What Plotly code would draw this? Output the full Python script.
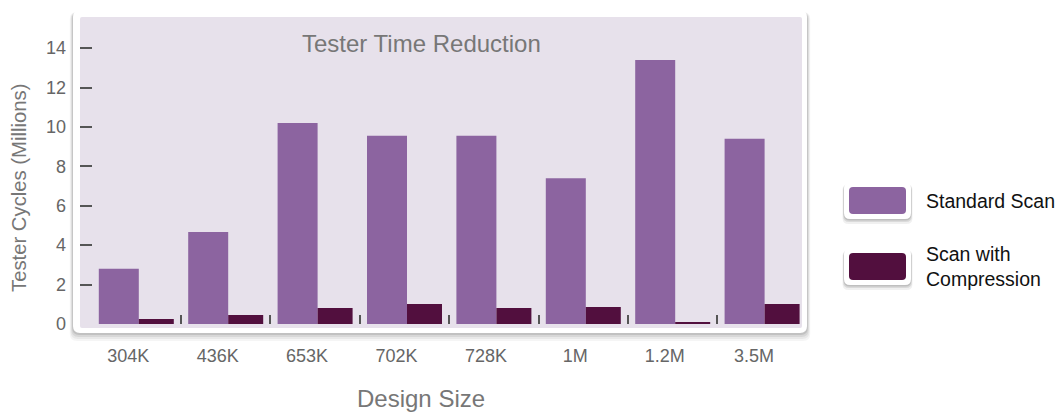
import plotly.graph_objects as go

categories = ["304K", "436K", "653K", "702K", "728K", "1M", "1.2M", "3.5M"]
standard_scan = [2.8, 4.67, 10.2, 9.55, 9.55, 7.4, 13.4, 9.4]
scan_compression = [0.25, 0.46, 0.81, 1.01, 0.81, 0.86, 0.1, 1.01]
series_names = ["Standard Scan", "Scan with<br>Compression"]
y_ticks = [0, 2, 4, 6, 8, 10, 12, 14]

c_std = "#8c64a0"
c_cmp = "#520f3e"
FONT = "Liberation Sans, Arial, Helvetica, sans-serif"

W, H = 1061, 412
L, R, T, B = 80, 803, 17, 324  # plot area in pixels
pw, ph = R - L, B - T


def px(x):
    return (x - L) / pw


def py(y):
    return (B - y) / ph


def rrect(x0, y0, x1, y1, r, fill, layer="above"):
    # rounded rectangle given in pixel coords, emitted in paper coords
    a, b_, c, d = px(x0), py(y0), px(x1), py(y1)
    rx, ry = r / pw, r / ph
    path = (f"M {a+rx},{b_} L {c-rx},{b_} Q {c},{b_} {c},{b_-ry} L {c},{d+ry} Q {c},{d} {c-rx},{d} "
            f"L {a+rx},{d} Q {a},{d} {a},{d+ry} L {a},{b_-ry} Q {a},{b_} {a+rx},{b_} Z")
    return dict(type="path", xref="paper", yref="paper", path=path, fillcolor=fill,
                line=dict(width=0), layer=layer)


xs = list(range(len(categories)))
cat_px = 89.4
fig = go.Figure()
fig.add_trace(go.Bar(x=xs, y=standard_scan, name=series_names[0],
                     marker=dict(color=c_std, line=dict(width=0)),
                     width=40 / cat_px, offset=-37.5 / cat_px, showlegend=False))
fig.add_trace(go.Bar(x=xs, y=scan_compression, name=series_names[1],
                     marker=dict(color=c_cmp, line=dict(width=0)),
                     width=35 / cat_px, offset=2.5 / cat_px, showlegend=False))

shapes = []
# frame drop shadow
for d, op in [(8, 0.04), (6, 0.05), (4, 0.07), (2, 0.10)]:
    shapes.append(rrect(73 - d * 0.4, 12, 807 + d * 0.4, 333 + d, 7, f"rgba(0,0,0,{op})", "below"))
shapes.append(rrect(73, 10, 807, 333, 7, "#ffffff", "below"))
shapes.append(rrect(80, 17, 802, 328, 2, "#e7e1eb", "below"))

# legend swatches
annotations = []
for (y0, y1, col, name) in [(182, 219, c_std, series_names[0]), (248, 285, c_cmp, series_names[1])]:
    for d, op in [(5, 0.06), (3, 0.09), (1.5, 0.12)]:
        shapes.append(rrect(844 - d * 0.3, y0 + 2, 911 + d * 0.3, y1 + d, 6, f"rgba(0,0,0,{op})"))
    shapes.append(rrect(844, y0, 911, y1, 6, "#ffffff"))
    shapes.append(rrect(849, y0 + 5, 906, y1 - 5, 4, col))
    annotations.append(dict(text=name, xref="paper", yref="paper", x=px(924), y=py((y0 + y1) / 2),
                            xanchor="left", yanchor="middle", showarrow=False, align="left",
                            font=dict(family=FONT, size=19.5, color="#111111")))

annotations.append(dict(text="Tester Time Reduction", xref="paper", yref="paper", x=px(421), y=py(43),
                        xanchor="center", yanchor="middle", showarrow=False,
                        font=dict(family=FONT, size=24, color="#777777")))
annotations.append(dict(text="Tester Cycles (Millions)", xref="paper", yref="paper", x=px(19), y=py(188),
                        xanchor="center", yanchor="middle", showarrow=False, textangle=-90,
                        font=dict(family=FONT, size=20.3, color="#777777")))
annotations.append(dict(text="Design Size", xref="paper", yref="paper", x=px(421), y=py(398),
                        xanchor="center", yanchor="middle", showarrow=False,
                        font=dict(family=FONT, size=24, color="#777777")))

fig.update_layout(
    width=W, height=H,
    margin=dict(l=L, r=W - R, t=T, b=H - B, pad=0),
    paper_bgcolor="#ffffff", plot_bgcolor="rgba(0,0,0,0)",
    barmode="overlay", showlegend=False,
    shapes=shapes, annotations=annotations,
    xaxis=dict(range=[-56.3 / cat_px, (R - 136.3) / cat_px], tickmode="array", tickvals=xs, ticktext=categories,
               ticks="", showgrid=False, zeroline=False, showline=False, ticklabelstandoff=19,
               ticklabelshift=-8,
               tickfont=dict(family=FONT, size=18, color="#666666"),
               minor=dict(tickmode="array", tickvals=[i + 0.5 for i in xs[:-1]], ticks="inside",
                          ticklen=9, tickwidth=2, tickcolor="#555555", showgrid=False)),
    yaxis=dict(range=[0, 15.58], tickmode="array", tickvals=y_ticks, ticks="inside", ticklen=12,
               tickwidth=2, tickcolor="#555555", showgrid=False, zeroline=False, showline=False,
               ticklabelstandoff=13, tickfont=dict(family=FONT, size=18, color="#666666")),
)

fig.write_html("out.html")
